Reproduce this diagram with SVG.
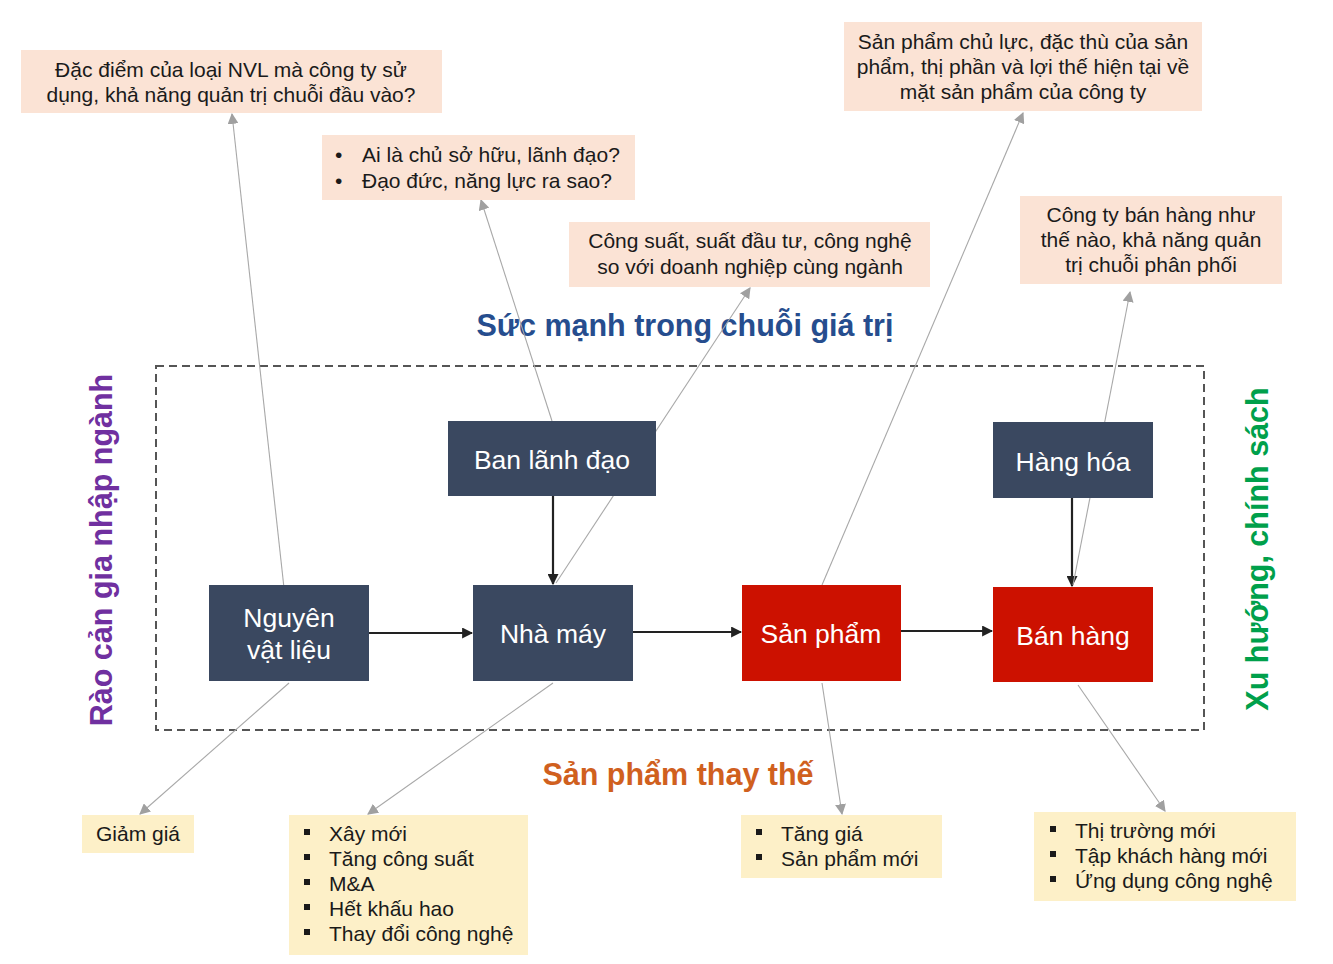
<svg xmlns="http://www.w3.org/2000/svg" width="1333" height="964" viewBox="0 0 1333 964">
<style>
text{font-family:"Liberation Sans",Arial,sans-serif}
.peach{fill:#fbe3d5}
.yel{fill:#fdf0c8}
.note{font-size:21px;fill:#1a1a1a}
.nc{text-anchor:middle}
.node{fill:#3a4860}
.red{fill:#cc1100}
.nt{font-size:26.5px;fill:#ffffff;text-anchor:middle}
.flow{stroke:#222;stroke-width:2.2;fill:none;marker-end:url(#ah)}
.thin{stroke:#a8a8a8;stroke-width:1.1;fill:none;marker-end:url(#ag)}
.title{font-weight:bold;font-size:30.5px}
</style>
<defs>
<marker id="ah" viewBox="0 0 10 10" refX="9" refY="5" markerWidth="5" markerHeight="5" orient="auto"><path d="M0,0 L10,5 L0,10 z" fill="#222"/></marker>
<marker id="ag" viewBox="0 0 10 10" refX="9" refY="5" markerWidth="11" markerHeight="11" orient="auto" markerUnits="userSpaceOnUse"><path d="M0,0 L10,5 L0,10 z" fill="#a0a0a0"/></marker>
</defs>
<rect width="1333" height="964" fill="#ffffff"/>

<rect id="frame" x="156" y="366" width="1048" height="364" fill="none" stroke="#555" stroke-width="2" stroke-dasharray="8,5"/>

<g id="titles">
<text class="title nc" x="685" y="336" fill="#264d8e">Sức mạnh trong chuỗi giá trị</text>
<text class="title nc" x="678" y="785" fill="#d0601e">Sản phẩm thay thế</text>
<text class="title nc" transform="translate(112,550) rotate(-90)" fill="#7030a0">Rào cản gia nhập ngành</text>
<text class="title nc" transform="translate(1268,549) rotate(-90)" fill="#00a04b">Xu hướng, chính sách</text>
</g>

<g id="connectors">
<line class="flow" x1="369" y1="633" x2="472" y2="633"/>
<line class="flow" x1="633" y1="632" x2="741" y2="632"/>
<line class="flow" x1="901" y1="631" x2="992" y2="631"/>
<line class="flow" x1="553" y1="496" x2="553" y2="584"/>
<line class="flow" x1="1072" y1="498" x2="1072" y2="586"/>
<line class="thin" x1="284" y1="588" x2="232" y2="114"/>
<line class="thin" x1="552" y1="421" x2="481" y2="200"/>
<line class="thin" x1="556" y1="583" x2="750" y2="288"/>
<line class="thin" x1="822" y1="585" x2="1023" y2="113"/>
<line class="thin" x1="1073" y1="585" x2="1130" y2="292"/>
<line class="thin" x1="289" y1="683" x2="140" y2="814"/>
<line class="thin" x1="553" y1="683" x2="368" y2="814"/>
<line class="thin" x1="822" y1="683" x2="842" y2="814"/>
<line class="thin" x1="1078" y1="685" x2="1165" y2="811"/>
</g>

<g id="nvl"><rect class="node" x="209" y="585" width="160" height="96"/><text class="nt" x="289" y="627">Nguyên</text><text class="nt" x="289" y="659">vật liệu</text></g>
<g id="nhamay"><rect class="node" x="473" y="585" width="160" height="96"/><text class="nt" x="553" y="643">Nhà máy</text></g>
<g id="banlanhdao"><rect class="node" x="448" y="421" width="208" height="75"/><text class="nt" x="552" y="469">Ban lãnh đạo</text></g>
<g id="sanpham"><rect class="red" x="742" y="585" width="159" height="96"/><text class="nt" x="821" y="643">Sản phẩm</text></g>
<g id="banhang"><rect class="red" x="993" y="587" width="160" height="95"/><text class="nt" x="1073" y="645">Bán hàng</text></g>
<g id="hanghoa"><rect class="node" x="993" y="422" width="160" height="76"/><text class="nt" x="1073" y="471">Hàng hóa</text></g>

<g id="note-nvl"><rect class="peach" x="21" y="50" width="421" height="63"/>
<text class="note nc" x="231" y="77">Đặc điểm của loại NVL mà công ty sử</text>
<text class="note nc" x="231" y="102">dụng, khả năng quản trị chuỗi đầu vào?</text></g>

<g id="note-lanhdao"><rect class="peach" x="322" y="135" width="313" height="65"/>
<text class="note" x="335" y="162">•</text><text class="note" x="362" y="162">Ai là chủ sở hữu, lãnh đạo?</text>
<text class="note" x="335" y="188">•</text><text class="note" x="362" y="188">Đạo đức, năng lực ra sao?</text></g>

<g id="note-nhamay"><rect class="peach" x="569" y="222" width="361" height="65"/>
<text class="note nc" x="750" y="248">Công suất, suất đầu tư, công nghệ</text>
<text class="note nc" x="750" y="274">so với doanh nghiệp cùng ngành</text></g>

<g id="note-sanpham"><rect class="peach" x="844" y="22" width="358" height="89"/>
<text class="note nc" x="1023" y="49">Sản phẩm chủ lực, đặc thù của sản</text>
<text class="note nc" x="1023" y="74">phẩm, thị phần và lợi thế hiện tại về</text>
<text class="note nc" x="1023" y="99">mặt sản phẩm của công ty</text></g>

<g id="note-banhang"><rect class="peach" x="1020" y="196" width="262" height="88"/>
<text class="note nc" x="1151" y="222">Công ty bán hàng như</text>
<text class="note nc" x="1151" y="247">thế nào, khả năng quản</text>
<text class="note nc" x="1151" y="272">trị chuỗi phân phối</text></g>

<g id="note-giamgia"><rect class="yel" x="82" y="815" width="112" height="38"/>
<text class="note" x="96" y="841">Giảm giá</text></g>

<g id="note-nhamay2"><rect class="yel" x="289" y="815" width="239" height="140"/>
<g fill="#1a1a1a"><rect x="304" y="829" width="6" height="6"/><rect x="304" y="854" width="6" height="6"/><rect x="304" y="879" width="6" height="6"/><rect x="304" y="904" width="6" height="6"/><rect x="304" y="929" width="6" height="6"/></g>
<text class="note" x="329" y="841">Xây mới</text>
<text class="note" x="329" y="866">Tăng công suất</text>
<text class="note" x="329" y="891">M&amp;A</text>
<text class="note" x="329" y="916">Hết khấu hao</text>
<text class="note" x="329" y="941">Thay đổi công nghệ</text></g>

<g id="note-sanpham2"><rect class="yel" x="741" y="815" width="201" height="63"/>
<g fill="#1a1a1a"><rect x="756" y="829" width="6" height="6"/><rect x="756" y="854" width="6" height="6"/></g>
<text class="note" x="781" y="841">Tăng giá</text>
<text class="note" x="781" y="866">Sản phẩm mới</text></g>

<g id="note-banhang2"><rect class="yel" x="1034" y="812" width="262" height="89"/>
<g fill="#1a1a1a"><rect x="1050" y="826" width="6" height="6"/><rect x="1050" y="851" width="6" height="6"/><rect x="1050" y="876" width="6" height="6"/></g>
<text class="note" x="1075" y="838">Thị trường mới</text>
<text class="note" x="1075" y="863">Tập khách hàng mới</text>
<text class="note" x="1075" y="888">Ứng dụng công nghệ</text></g>
</svg>
